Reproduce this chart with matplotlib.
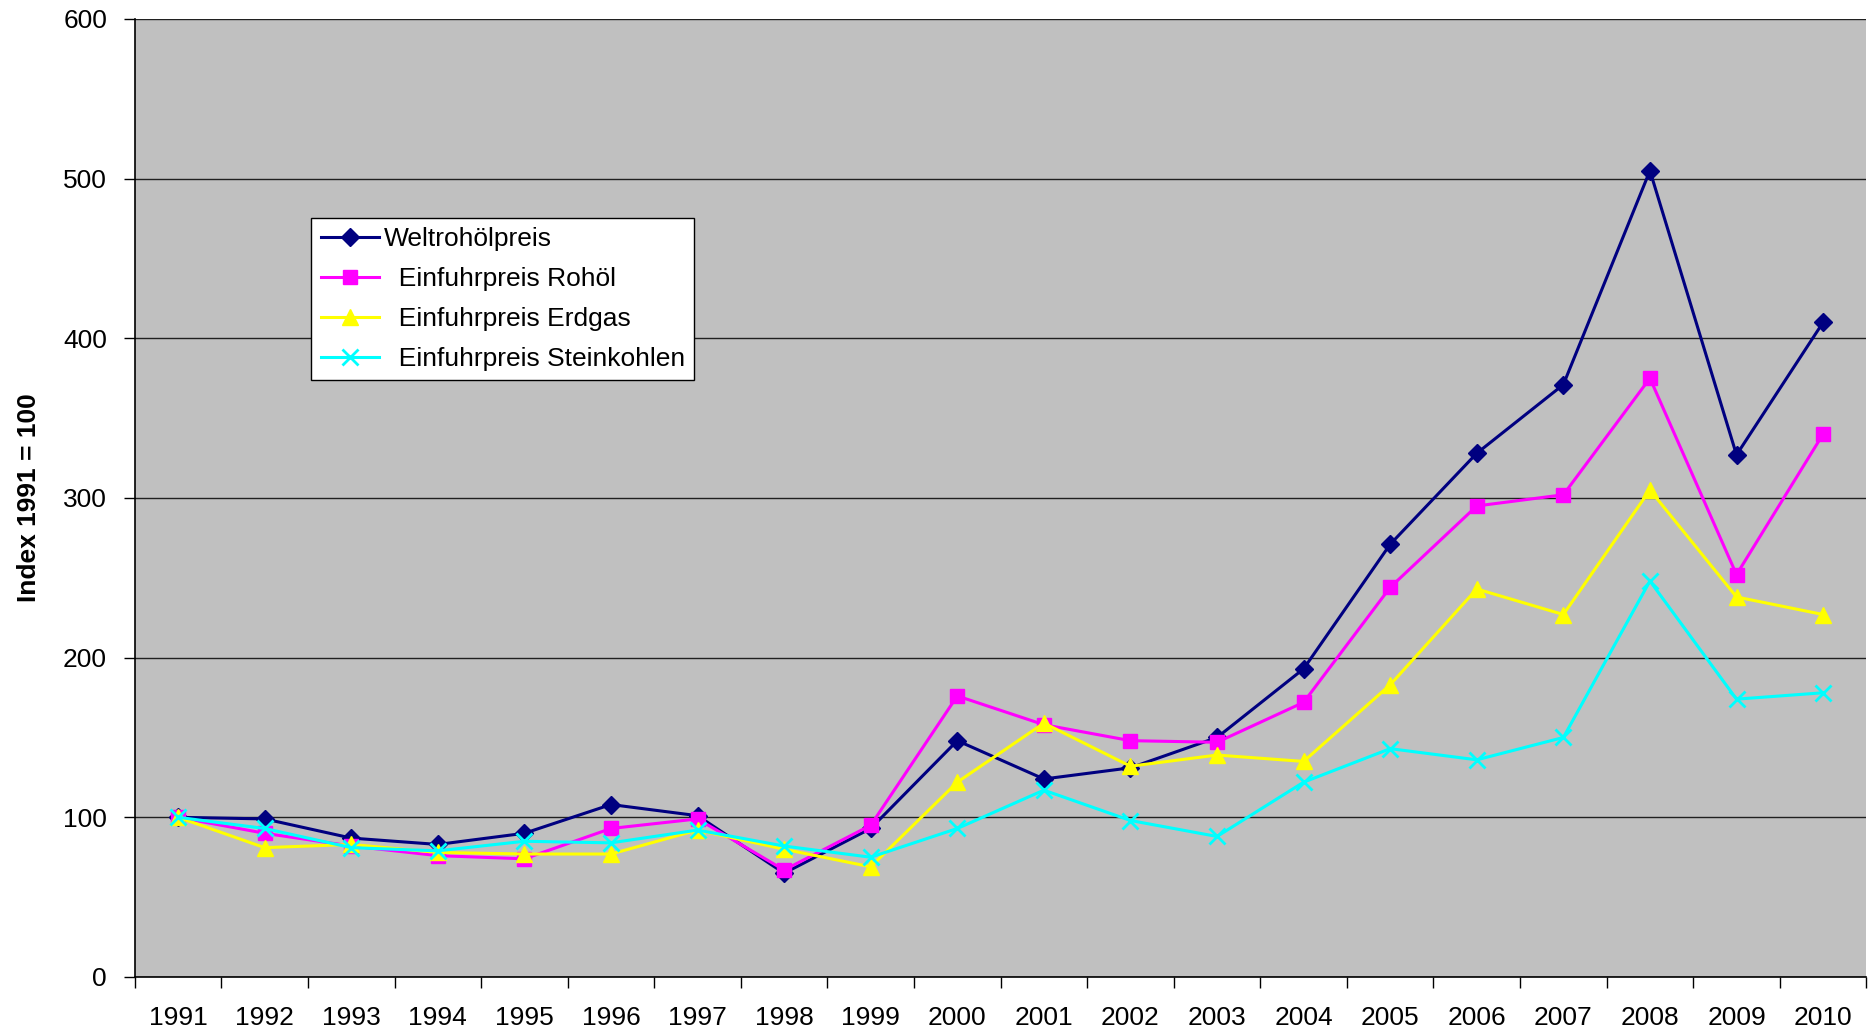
import matplotlib
matplotlib.use('Agg')
import matplotlib.pyplot as plt
import numpy as np

# Daten (Index 1991 = 100)
jahre = [str(j) for j in range(1991, 2011)]
weltrohoel = [100, 99, 87, 83, 90, 108, 101, 65, 93, 148, 124, 131, 150, 193, 271, 328, 371, 505, 327, 410]
rohoel = [100, 90, 82, 76, 74, 93, 99, 67, 95, 176, 158, 148, 147, 172, 244, 295, 302, 375, 252, 340]
erdgas = [100, 81, 83, 78, 77, 77, 92, 80, 69, 122, 159, 132, 139, 135, 183, 243, 227, 305, 238, 227]
steinkohlen = [100, 93, 81, 79, 85, 84, 92, 82, 75, 93, 117, 98, 88, 122, 143, 136, 150, 248, 174, 178]

plt.rcParams['font.family'] = ['Liberation Sans', 'DejaVu Sans']

fig = plt.figure(figsize=(18.72, 10.31), dpi=100)
ax = fig.add_axes([0.072, 0.0524, 0.925, 0.9292])
ax.set_facecolor('#C0C0C0')

x = np.arange(len(jahre))
lw = 2.2
ax.plot(x, weltrohoel, color='#000080', marker='D', markersize=9, linewidth=lw,
        label='Weltrohölpreis')
ax.plot(x, rohoel, color='#FF00FF', marker='s', markersize=10, linewidth=lw,
        label='  Einfuhrpreis Rohöl')
ax.plot(x, erdgas, color='#FFFF00', marker='^', markersize=11, linewidth=lw,
        label='  Einfuhrpreis Erdgas')
ax.plot(x, steinkohlen, color='#00FFFF', marker='x', markersize=11, markeredgewidth=2,
        linewidth=lw, label='  Einfuhrpreis Steinkohlen')

ax.set_xlim(-0.5, len(jahre) - 0.5)
ax.set_ylim(0, 600)
ax.set_yticks(range(0, 601, 100))
ax.set_xticks(x)
ax.set_xticklabels(jahre)
ax.set_xticks(np.arange(-0.5, len(jahre), 1), minor=True)
ax.tick_params(axis='x', which='major', length=0, labelsize=19, pad=21)
ax.tick_params(axis='x', which='minor', length=8, width=1, direction='out')
ax.tick_params(axis='y', length=8, width=1, direction='out', labelsize=19, pad=12)

ax.yaxis.grid(True, color='#202020', linewidth=1)
ax.set_axisbelow(True)
for s in ['top', 'right']:
    ax.spines[s].set_visible(False)
ax.spines['left'].set_linewidth(1.2)
ax.spines['bottom'].set_linewidth(1.2)

ax.set_ylabel('Index 1991 = 100', fontsize=19, fontweight='bold',
              family=['Liberation Sans Narrow', 'Liberation Sans'], labelpad=16)

leg = ax.legend(loc='upper left', bbox_to_anchor=(0.102, 0.792), borderaxespad=0,
                fontsize=19, frameon=True, fancybox=False, edgecolor='black', framealpha=1,
                handlelength=2.2, handletextpad=0.2, borderpad=0.35, labelspacing=0.6)
leg.get_frame().set_linewidth(1)

fig.savefig('out.png', dpi=100)
plt.close(fig)
